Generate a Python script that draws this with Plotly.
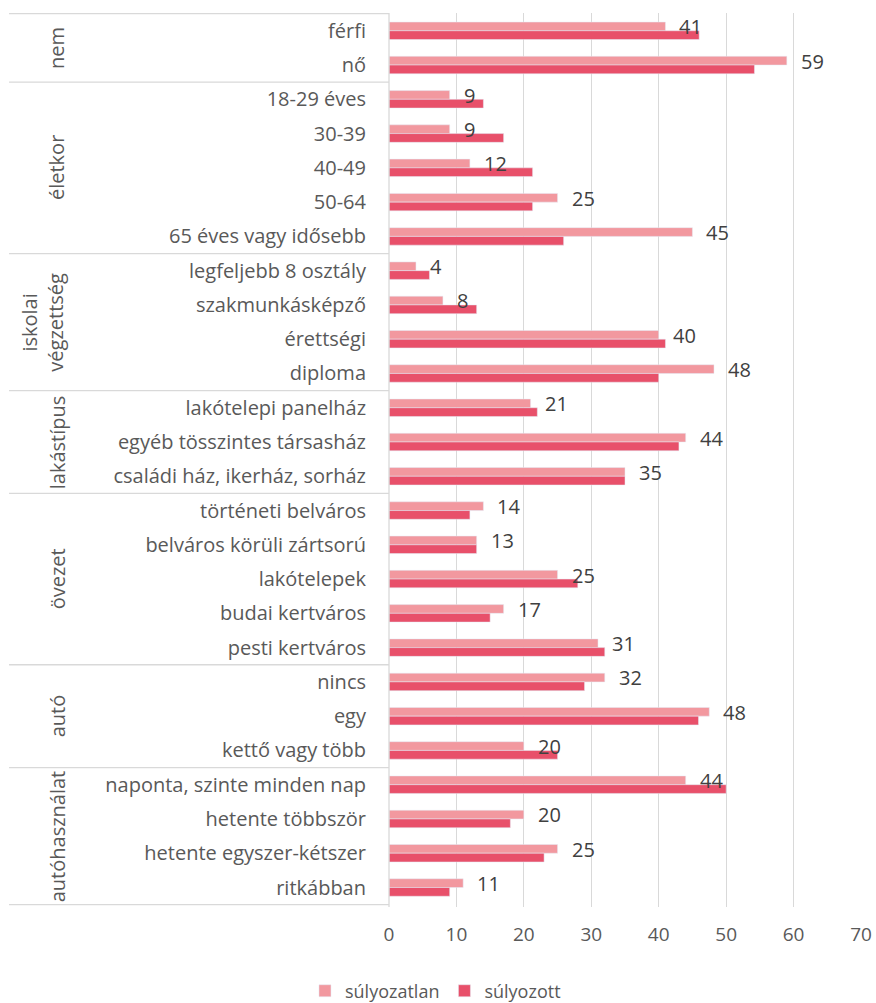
import plotly.graph_objects as go

groups = ["nem", "életkor", "iskolai<br>végzettség", "lakástípus", "övezet", "autó", "autóhasználat"]
group_sizes = [2, 5, 4, 3, 5, 3, 4]
categories = [
    "férfi", "nő",
    "18-29 éves", "30-39", "40-49", "50-64", "65 éves vagy idősebb",
    "legfeljebb 8 osztály", "szakmunkásképző", "érettségi", "diploma",
    "lakótelepi panelház", "egyéb tösszintes társasház", "családi ház, ikerház, sorház",
    "történeti belváros", "belváros körüli zártsorú", "lakótelepek", "budai kertváros", "pesti kertváros",
    "nincs", "egy", "kettő vagy több",
    "naponta, szinte minden nap", "hetente többször", "hetente egyszer-kétszer", "ritkábban",
]
sulyozatlan = [41, 59, 9, 9, 12, 25, 45, 4, 8, 40, 48.2, 21, 44, 35, 14, 13, 25, 17, 31, 32, 47.5, 20, 44, 20, 25, 11]
sulyozott = [46, 54.2, 14, 17, 21.3, 21.3, 25.9, 6, 13, 41, 40, 22, 43, 35, 12, 13, 28, 15, 32, 29, 45.9, 25, 50, 18, 23, 9]
x_ticks = [0, 10, 20, 30, 40, 50, 60, 70]

FONT = "Open Sans"
FS = 20
LIGHT = "#F2989F"
DARK = "#E8506A"
GRID = "#D9D9D9"

fig = go.Figure()
fig.add_trace(go.Bar(y=categories, x=sulyozatlan, orientation="h", name="súlyozatlan",
                     marker=dict(color=LIGHT)))
fig.add_trace(go.Bar(y=categories, x=sulyozott, orientation="h", name="súlyozott",
                     marker=dict(color=DARK)))

annotations = []
for c, v in zip(categories, sulyozatlan):
    annotations.append(dict(x=v, y=c, xref="x", yref="y", text=f"{round(v)}", showarrow=False,
                            xanchor="left", yanchor="middle", xshift=12, yshift=4,
                            font=dict(family=FONT, size=FS, color="#404040")))

# left "table" structure
x_left = -0.805
shapes = []
start = 0
bounds = [0]
for s in group_sizes:
    start += s
    bounds.append(start)
for b in bounds:
    shapes.append(dict(type="line", xref="paper", yref="y", x0=x_left, x1=0, y0=b - 0.5, y1=b - 0.5,
                       line=dict(color=GRID, width=1.3)))
shapes.append(dict(type="line", xref="paper", yref="paper", x0=0, x1=0, y0=0, y1=1,
                   line=dict(color=GRID, width=1.3)))

for g, a, b in zip(groups, bounds[:-1], bounds[1:]):
    gx = -0.736 if "<br>" in g else -0.703
    annotations.append(dict(x=gx, y=(a + b - 1) / 2, xref="paper", yref="y", text=g, showarrow=False,
                            textangle=-90, xanchor="center", yanchor="middle",
                            font=dict(family=FONT, size=FS, color="#595959")))

fig.update_layout(
    width=876, height=1003,
    margin=dict(l=389, r=15, t=13, b=96, autoexpand=False),
    paper_bgcolor="white", plot_bgcolor="white",
    barmode="group", bargap=0.49, bargroupgap=0,
    font=dict(family=FONT, size=FS, color="#595959"),
    xaxis=dict(range=[0, 70], tickvals=x_ticks, showgrid=True, gridcolor=GRID, gridwidth=1.3,
               zeroline=False, showline=False, ticks="outside", ticklen=10, tickcolor="rgba(0,0,0,0)",
               automargin=False, tickfont=dict(family=FONT, size=19, color="#595959")),
    yaxis=dict(autorange="reversed", type="category", showgrid=False, zeroline=False, showline=False,
               ticks="outside", ticklen=18, tickcolor="rgba(0,0,0,0)", automargin=False,
               tickfont=dict(family=FONT, size=FS, color="#595959")),
    legend=dict(orientation="h", x=-0.178, y=-0.094, xanchor="left", yanchor="middle",
                font=dict(family=FONT, size=18, color="#595959"), itemwidth=30, traceorder="normal"),
    shapes=shapes,
    annotations=annotations,
)

fig.write_html("out.html", config={"displayModeBar": False},
               post_script="document.body.style.margin='0';document.body.style.overflow='hidden';")
